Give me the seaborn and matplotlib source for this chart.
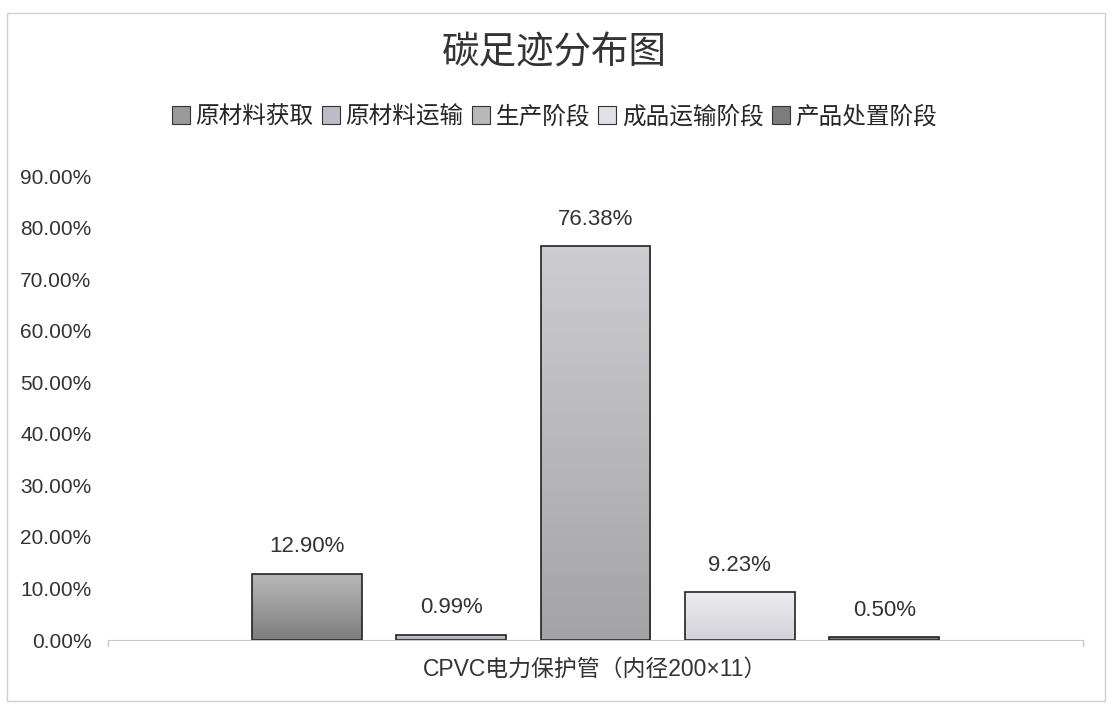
import numpy as np
import pandas as pd
import seaborn as sns
import matplotlib.pyplot as plt
from matplotlib.patches import Rectangle
from matplotlib.colors import LinearSegmentedColormap

# Carbon footprint share per life-cycle stage
category = ['CPVC电力保护管（内径200×11）']
stages = ['原材料获取', '原材料运输', '生产阶段', '成品运输阶段', '产品处置阶段']
shares = [12.90, 0.99, 76.38, 9.23, 0.50]
colors = ['#9a9a9a', '#bcbcc6', '#b8b8bc', '#e0e0e6', '#7c7c7c']
# gradient (top, bottom) for each bar, office-style fill
grad = [('#b8b8b8', '#7e7e7e'), ('#d4d4dc', '#a8a8b4'), ('#cdcdd1', '#a4a4a6'),
        ('#ececf0', '#d2d2d8'), ('#8e8e8e', '#6a6a6a')]

df = pd.DataFrame({'product': category * len(stages), 'stage': stages, 'share': shares})

sns.set_style('white')
plt.rcParams['font.family'] = ['Liberation Sans', 'Noto Sans CJK SC', 'DejaVu Sans']

fig = plt.figure(figsize=(11.09, 7.04), dpi=100)
ax = fig.add_axes([0.0974, 0.0909, 0.8792, 0.659])

sns.barplot(data=df, x='product', y='share', hue='stage', hue_order=stages,
            palette=colors, width=0.74, gap=0.24, edgecolor='#222222',
            linewidth=1.2, legend=False, ax=ax)

for container in ax.containers:
    ax.bar_label(container, fmt='%.2f%%', padding=12, fontsize=16, color='#333333')

ax.set_xlim(-0.5, 0.5)
ax.set_ylim(0, 90)

# gradient fill clipped to each bar
for bar, (top, bot) in zip(ax.patches, grad):
    x0, y0 = bar.get_x(), bar.get_y()
    w, h = bar.get_width(), bar.get_height()
    cmap = LinearSegmentedColormap.from_list('g', [bot, top])
    im = ax.imshow(np.linspace(0, 1, 64).reshape(-1, 1), cmap=cmap, origin='lower',
                   extent=[x0, x0 + w, y0, y0 + h], aspect='auto', zorder=1.5)
    im.set_clip_path(bar)
    bar.set_facecolor('none')
    bar.set_zorder(2)

ax.set_xlim(-0.5, 0.5)
ax.set_ylim(0, 90)
ax.set_yticks(range(0, 91, 10))
ax.set_yticklabels([f'{v:.2f}%' for v in range(0, 91, 10)], fontsize=15, color='#333333')
ax.set_xlabel('')
ax.set_ylabel('')
ax.tick_params(axis='x', labelsize=16.5, colors='#333333', length=0, pad=13)
ax.tick_params(axis='y', length=0, pad=12)
for s in ['top', 'right', 'left']:
    ax.spines[s].set_visible(False)
ax.spines['bottom'].set_color('#c8c8c8')
for xe in (-0.5, 0.5):
    ax.plot([xe, xe], [0, -1.2], color='#c8c8c8', lw=1, clip_on=False)

handles = [Rectangle((0, 0), 1, 1, facecolor=c, edgecolor='#333333', lw=0.8) for c in colors]
fig.legend(handles, stages, loc='center', bbox_to_anchor=(0.5, 0.834), ncol=5,
           frameon=False, handlelength=0.75, handleheight=0.75,
           handletextpad=0.25, columnspacing=0.35,
           prop={'family': ['Noto Sans CJK SC'], 'size': 17})

fig.text(0.5, 0.925, '碳足迹分布图', ha='center', va='center', fontsize=27,
         family=['Noto Sans CJK SC'], color='#333333')

fig.patches.append(Rectangle((0.006, 0.004), 0.99, 0.978, transform=fig.transFigure,
                             fill=False, edgecolor='#d0d0d0', lw=1))

fig.savefig('out.png', dpi=100)
